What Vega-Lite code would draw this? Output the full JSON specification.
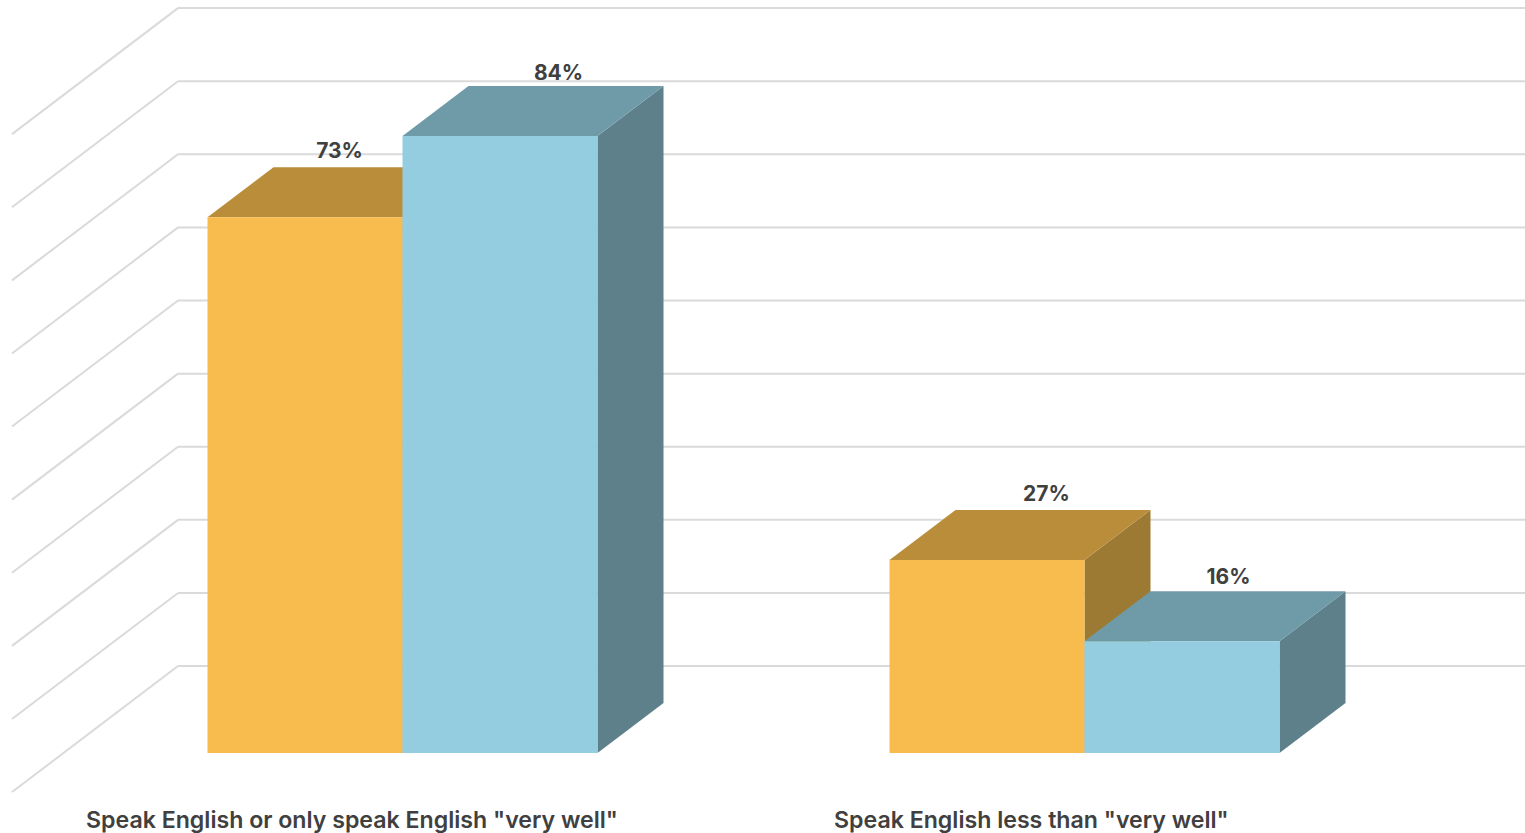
{
"$schema":"https://vega.github.io/schema/vega-lite/v6.json",
"width":1525,"height":833,"padding":0,"autosize":{"type":"none"},
"background":"white",
"view":{"stroke":null},
"datasets":{
"bars":[
{"category":"Speak English or only speak English \"very well\"","series":"Group A","value":73.3,"label":"73%"},
{"category":"Speak English or only speak English \"very well\"","series":"Group B","value":84.4,"label":"84%"},
{"category":"Speak English less than \"very well\"","series":"Group A","value":26.4,"label":"27%"},
{"category":"Speak English less than \"very well\"","series":"Group B","value":15.3,"label":"16%"}
],
"levels":[{"level":0},{"level":10},{"level":20},{"level":30},{"level":40},{"level":50},{"level":60},{"level":70},{"level":80},{"level":90}]
},
"encoding":{
"x":{"type":"quantitative","scale":{"domain":[0,1525],"nice":false,"zero":false},"axis":null},
"y":{"type":"quantitative","scale":{"domain":[-10.94,103.01],"nice":false,"zero":false},"axis":null}
},
"resolve":{"scale":{"color":"independent"}},
"layer":[
{"data":{"name":"levels"},
 "transform":[{"calculate":"11.9+datum.level","as":"back"},{"calculate":"-5.34+datum.level","as":"front"},{"calculate":"12","as":"xa"},{"calculate":"178","as":"xb"},{"calculate":"1525","as":"xc"}],
 "layer":[
  {"mark":{"type":"rule","color":"#DADADA","strokeWidth":2},"encoding":{"x":{"field":"xa","type":"quantitative"},"x2":{"field":"xb"},"y":{"field":"front","type":"quantitative"},"y2":{"field":"back"}}},
  {"mark":{"type":"rule","color":"#DADADA","strokeWidth":2},"encoding":{"x":{"field":"xb","type":"quantitative"},"x2":{"field":"xc"},"y":{"field":"back","type":"quantitative"}}}
 ]},
{"data":{"name":"bars"},
 "transform":[
  {"calculate":"(indexof(datum.category,'less')>=0?889.5:207.5)+(datum.series=='Group B'?195:0)","as":"x0"},
  {"calculate":"[0,66]","as":"t"},{"flatten":["t"]},
  {"calculate":"datum.x0+195+datum.t","as":"px"},
  {"calculate":"datum.value+datum.t/66*6.84","as":"upper"},
  {"calculate":"datum.t/66*6.84","as":"lower"}
 ],
 "mark":{"type":"area","orient":"vertical"},
 "encoding":{"x":{"field":"px","type":"quantitative"},"y":{"field":"upper","type":"quantitative"},"y2":{"field":"lower"},"detail":{"field":"x0","type":"nominal"},
  "color":{"field":"series","type":"nominal","legend":null,"scale":{"domain":["Group A","Group B"],"range":["#9D7A33","#5E808A"]}}}},
{"data":{"name":"bars"},
 "transform":[
  {"calculate":"(indexof(datum.category,'less')>=0?889.5:207.5)+(datum.series=='Group B'?195:0)","as":"x0"},
  {"calculate":"[0,66,195,261]","as":"t"},{"flatten":["t"]},
  {"calculate":"datum.x0+datum.t","as":"px"},
  {"calculate":"datum.value+min(datum.t,66)/66*6.84","as":"upper"},
  {"calculate":"datum.value+max(datum.t-195,0)/66*6.84","as":"lower"}
 ],
 "mark":{"type":"area"},
 "encoding":{"x":{"field":"px","type":"quantitative"},"y":{"field":"upper","type":"quantitative"},"y2":{"field":"lower"},"detail":{"field":"x0","type":"nominal"},
  "color":{"field":"series","type":"nominal","legend":null,"scale":{"domain":["Group A","Group B"],"range":["#BA8D3A","#6F9BA9"]}}}},
{"data":{"name":"bars"},
 "transform":[
  {"calculate":"(indexof(datum.category,'less')>=0?889.5:207.5)+(datum.series=='Group B'?195:0)","as":"x0"},
  {"calculate":"datum.x0+195","as":"x1"}
 ],
 "mark":{"type":"rect"},
 "encoding":{"x":{"field":"x0","type":"quantitative"},"x2":{"field":"x1"},"y":{"field":"value","type":"quantitative"},"y2":{"datum":0},
  "color":{"field":"series","type":"nominal","legend":null,"scale":{"domain":["Group A","Group B"],"range":["#F8BB4D","#95CDE0"]}}}},
{"data":{"name":"bars"},
 "transform":[
  {"calculate":"{'73%':339.5,'84%':558.5,'27%':1046.5,'16%':1228.5}[datum.label]","as":"lx"},
  {"calculate":"datum.value+{'73%':8.9,'84%':8.5,'27%':8.95,'16%':8.66}[datum.label]","as":"ly"}
 ],
 "mark":{"type":"text","font":"Inter","fontWeight":700,"fontSize":21,"color":"#404040","align":"center","baseline":"middle"},
 "encoding":{"x":{"field":"lx","type":"quantitative"},"y":{"field":"ly","type":"quantitative"},"text":{"field":"label"}}},
{"data":{"name":"bars"},
 "transform":[
  {"filter":"datum.series=='Group A'"},
  {"calculate":"indexof(datum.category,'less')>=0?834:86","as":"lx"},
  {"calculate":"-9.33","as":"ly"}
 ],
 "mark":{"type":"text","font":"Inter","fontWeight":600,"fontSize":23.15,"color":"#404040","align":"left","baseline":"middle"},
 "encoding":{"x":{"field":"lx","type":"quantitative"},"y":{"field":"ly","type":"quantitative"},"text":{"field":"category"}}}
]
}
